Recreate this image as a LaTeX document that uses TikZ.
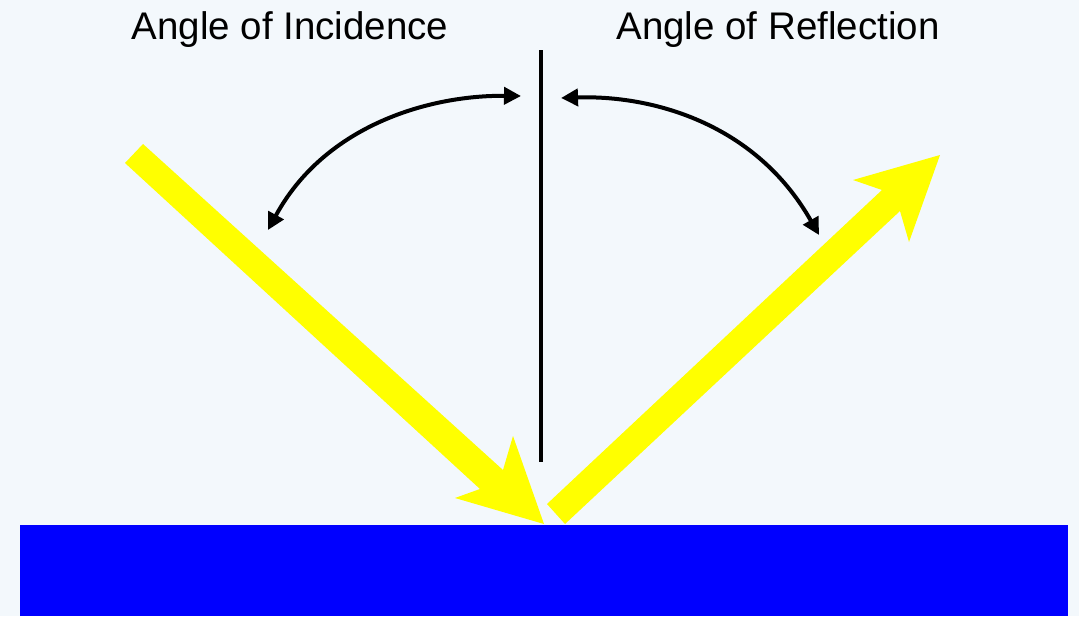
\documentclass[tikz,border=0pt]{standalone}
\usepackage{fontspec}
\setmainfont{Liberation Sans}
\usetikzlibrary{arrows.meta}
\definecolor{bgc}{RGB}{243,248,252}
\definecolor{beamc}{RGB}{255,255,0}
\definecolor{floorc}{RGB}{0,0,255}
\begin{document}
\begin{tikzpicture}[x=1pt,y=-1pt,
  lbl/.style={anchor=base,inner sep=0pt,font=\fontsize{38.5}{40}\selectfont},
  beam/.style={fill=beamc,draw=none},
  angarrow/.style={line width=4pt,{Triangle[length=17pt,width=17pt]}-{Triangle[length=17pt,width=17pt]}}]
\fill[bgc] (0,0) rectangle (1079,616);
\useasboundingbox (0,0) rectangle (1079,616);
% floor
\fill[floorc] (20,525) rectangle (1068,616);
% incident beam
\fill[beam] (125,163) -- (143,144) -- (503,470) -- (513,436) -- (544,524) -- (455,498) -- (480,489) -- cycle;
% reflected beam
\fill[beam] (547,504) -- (882,190) -- (853,180) -- (940,155) -- (909,242) -- (900,211) -- (565,524) -- cycle;
% normal
\coordinate (ntop) at (541,50);
\coordinate (nbot) at (541,462);
\draw[line width=4.5pt] (ntop) -- (nbot);
% labels
\node[lbl] (inc) at (290,39) {Angle of Incidence};
\node[lbl] (ref) at (778,39) {Angle of Reflection};
% angle arrows
\coordinate (la) at (268,230);
\coordinate (lb) at (521,96);
\coordinate (ra) at (561,98);
\coordinate (rb) at (819,235);
\draw[angarrow] (la) .. controls (325,125) and (430,95) .. (lb);
\draw[angarrow] (ra) .. controls (650,95) and (755,122) .. (rb);
\end{tikzpicture}
\end{document}
